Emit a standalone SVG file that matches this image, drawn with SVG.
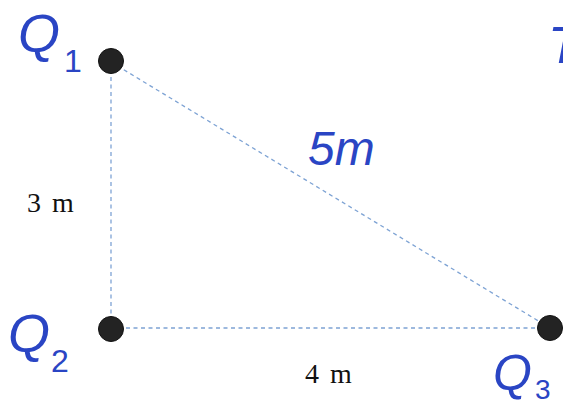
<svg xmlns="http://www.w3.org/2000/svg" width="563" height="400" viewBox="0 0 563 400">
<style>
.dash{stroke:#7ea3d4;stroke-width:1.3;stroke-dasharray:4 3.5;fill:none}
.dot{fill:#232323;stroke:#111;stroke-width:1}
.hand{fill:#2a45c4;font-family:"Liberation Sans",sans-serif}
.print{fill:#111;font-family:"Liberation Serif",serif;font-size:28px;word-spacing:4px}
</style>
<rect width="563" height="400" fill="#fff"/>
<g id="connectors">
<line class="dash" x1="111" y1="62" x2="111" y2="328"/>
<line class="dash" x1="111" y1="328" x2="550" y2="328"/>
<line class="dash" x1="111" y1="62" x2="550" y2="328"/>
</g>
<g id="Q1">
<circle class="dot" cx="111" cy="61" r="12.5"/>
<text class="hand" x="18" y="52" font-size="54" font-style="italic">Q</text>
<text class="hand" x="64" y="72" font-size="32">1</text>
</g>
<g id="Q2">
<circle class="dot" cx="111" cy="329" r="12.5"/>
<text class="hand" x="8" y="352" font-size="54" font-style="italic">Q</text>
<text class="hand" x="51" y="372" font-size="32">2</text>
</g>
<g id="Q3">
<circle class="dot" cx="550" cy="328" r="12.5"/>
<text class="hand" x="493" y="390" font-size="50" font-style="italic">Q</text>
<text class="hand" x="535" y="399" font-size="28">3</text>
</g>
<g id="labels">
<text class="print" x="27" y="212">3 m</text>
<text class="print" x="305" y="383">4 m</text>
<text class="hand" x="308" y="165" font-size="48" font-style="italic">5m</text>
<text class="hand" x="548" y="63" font-size="52" font-style="italic">T</text>
</g>
</svg>
